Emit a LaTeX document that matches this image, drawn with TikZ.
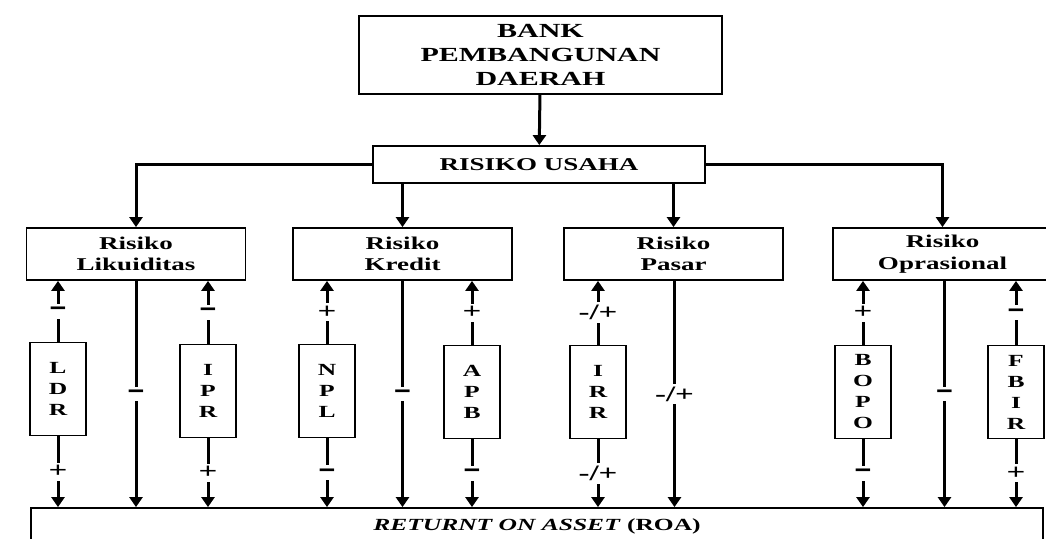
\documentclass[tikz,border=0pt]{standalone}
\usepackage{fontspec}
\setmainfont{Liberation Serif}
\newfontfamily\widefont[FakeStretch=1.5]{Liberation Serif}
\newfontfamily\signfont{DejaVu Sans}
\usetikzlibrary{arrows.meta,positioning}
\newcommand{\minsign}{{\signfont\bfseries\fontsize{23}{23}\selectfont −}}

\begin{document}
\begin{tikzpicture}[x=1pt, y=-1pt,
  box/.style={draw, line width=1.8pt, inner sep=0pt, align=center,
    font=\widefont\bfseries\fontsize{18}{21.5}\selectfont},
  riskbox/.style={box, minimum width=219pt, minimum height=52pt},
  ratiobox/.style={box, minimum width=56pt, minimum height=93pt,
    font=\widefont\bfseries\fontsize{17}{21}\selectfont},
  link/.style={line width=3pt, -{Triangle[width=13pt,length=10pt]}},
  sign/.style={midway, fill=white, inner xsep=1.5pt, inner ysep=3pt,
    font=\widefont\bfseries\fontsize{22}{22}\selectfont}]

  \useasboundingbox (0,0) rectangle (1046,538);
  \fill[white] (0,0) rectangle (1046,538);
  \clip (0,0) rectangle (1046,538);

  % Nodes
  \node[box, minimum width=363pt, minimum height=78pt,
    font=\widefont\bfseries\fontsize{20}{24}\selectfont] (bank) at (540.5,55) {BANK\\PEMBANGUNAN\\DAERAH};
  \node[box, minimum width=332pt, minimum height=37pt] (usaha) at (539,164.5) {RISIKO USAHA};

  \node[riskbox] (lik) at (136,254) {Risiko\\Likuiditas};
  \node[riskbox] (kre) at (402.5,254) {Risiko\\Kredit};
  \node[riskbox] (pas) at (673.5,254) {Risiko\\Pasar};
  \node[riskbox] (opr) at (942.5,254) {Risiko\\Oprasional};

  \node[ratiobox] (ldr) at (58,389) {L\\D\\R};
  \node[ratiobox] (ipr) at (208,391) {I\\P\\R};
  \node[ratiobox] (npl) at (327,391) {N\\P\\L};
  \node[ratiobox] (apb) at (472,392) {A\\P\\B};
  \node[ratiobox] (irr) at (598,392) {I\\R\\R};
  \node[ratiobox] (bopo) at (863,392) {B\\O\\P\\O};
  \node[ratiobox] (fbir) at (1016,392) {F\\B\\I\\R};

  \node[box, minimum width=1012pt, minimum height=37pt,
    font=\widefont\bfseries\fontsize{17}{20}\selectfont] (roa) at (537,526.5) {\textit{RETURNT ON ASSET} (ROA)};

  % Branches
  \draw[link] (bank) -- (usaha);
  \draw[link] (usaha.west) -| (lik.north);
  \draw[link] (usaha.south -| kre.north) -- (kre.north);
  \draw[link] (usaha.south -| pas.north) -- (pas.north);
  \draw[link] (usaha.east) -| (opr.north);

  % Ratios to risks
  \draw[link] (ldr.north) -- node[sign] {\minsign} (ldr.north |- lik.south);
  \draw[link] (ipr.north) -- node[sign] {\minsign} (ipr.north |- lik.south);
  \draw[link] (npl.north) -- node[sign] {+} (npl.north |- kre.south);
  \draw[link] (apb.north) -- node[sign] {+} (apb.north |- kre.south);
  \draw[link] (irr.north) -- node[sign] {-/+} (irr.north |- pas.south);
  \draw[link] (bopo.north) -- node[sign] {+} (bopo.north |- opr.south);
  \draw[link] (fbir.north) -- node[sign] {\minsign} (fbir.north |- opr.south);

  % Ratios to ROA
  \draw[link] (ldr.south) -- node[sign] {+} (ldr.south |- roa.north);
  \draw[link] (ipr.south) -- node[sign] {+} (ipr.south |- roa.north);
  \draw[link] (npl.south) -- node[sign] {\minsign} (npl.south |- roa.north);
  \draw[link] (apb.south) -- node[sign] {\minsign} (apb.south |- roa.north);
  \draw[link] (irr.south) -- node[sign] {-/+} (irr.south |- roa.north);
  \draw[link] (bopo.south) -- node[sign] {\minsign} (bopo.south |- roa.north);
  \draw[link] (fbir.south) -- node[sign] {+} (fbir.south |- roa.north);

  % Risks to ROA
  \draw[link] (lik.south) -- node[sign] {\minsign} (lik.south |- roa.north);
  \draw[link] (kre.south) -- node[sign] {\minsign} (kre.south |- roa.north);
  \draw[link] ([xshift=1pt]pas.south) -- node[sign] {-/+} ([xshift=1pt]pas.south |- roa.north);
  \draw[link] ([xshift=2pt]opr.south) -- node[sign] {\minsign} ([xshift=2pt]opr.south |- roa.north);
\end{tikzpicture}
\end{document}
